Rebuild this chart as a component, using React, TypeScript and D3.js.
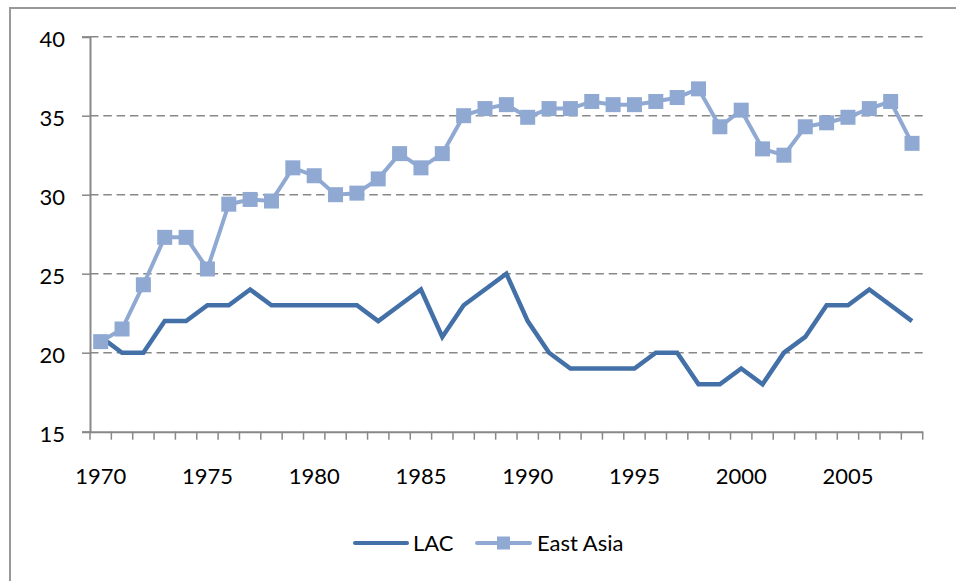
import React, { useEffect, useRef } from "react";
import * as d3 from "d3";

const years = d3.range(1970, 2009).map(String);
const lacValues = [
  21, 20, 20, 22, 22, 23, 23, 24, 23, 23, 23, 23, 23, 22, 23, 24, 21, 23, 24, 25,
  22, 20, 19, 19, 19, 19, 20, 20, 18, 18, 19, 18, 20, 21, 23, 23, 24, 23, 22,
];
const eastAsiaValues = [
  20.7, 21.5, 24.3, 27.3, 27.3, 25.3, 29.4, 29.7, 29.6, 31.7, 31.2, 30.0, 30.1,
  31.0, 32.6, 31.7, 32.6, 35.0, 35.45, 35.7, 34.9, 35.45, 35.45, 35.9, 35.7, 35.7,
  35.9, 36.15, 36.7, 34.3, 35.35, 32.9, 32.5, 34.3, 34.55, 34.9, 35.45, 35.9, 33.25,
];
const yTicks = [15, 20, 25, 30, 35, 40];
const yearLabels = ["1970", "1975", "1980", "1985", "1990", "1995", "2000", "2005"];
const seriesNames = ["LAC", "East Asia"];

const W = 956;
const H = 581;
const FONT = "Lato, 'Open Sans', sans-serif";
const LAC_COLOR = "#4470a8";
const EA_COLOR = "#8fa9d3";
const AXIS_COLOR = "#888888";

export default function App() {
  const ref = useRef<SVGSVGElement>(null);

  useEffect(() => {
    if (!ref.current) return;
    const svg = d3.select(ref.current);
    svg.selectAll("*").remove();

    const plot = { left: 90, right: 922.7, top: 36.7, bottom: 431.7 };

    // chart frame
    svg.append("rect")
      .attr("x", 10).attr("y", 8)
      .attr("width", W + 20).attr("height", H + 20)
      .attr("fill", "white")
      .attr("stroke", "#999")
      .attr("stroke-width", 2);

    const x = d3.scaleBand()
      .domain(years)
      .range([plot.left, plot.right]);

    const y = d3.scaleLinear()
      .domain([15, 40])
      .range([plot.bottom, plot.top]);

    const cx = (yr: string) => (x(yr) as number) + x.bandwidth() / 2;

    // gridlines
    svg.append("g")
      .selectAll("line")
      .data(yTicks.filter(t => t !== 15))
      .join("line")
      .attr("x1", plot.left)
      .attr("x2", plot.right)
      .attr("y1", d => y(d))
      .attr("y2", d => y(d))
      .attr("stroke", AXIS_COLOR)
      .attr("stroke-width", 1.5)
      .attr("stroke-dasharray", "8.5,4.8");

    // y axis
    const yAxis = svg.append("g")
      .attr("transform", `translate(${plot.left},0)`)
      .call(d3.axisLeft(y).tickValues(yTicks).tickSize(8).tickPadding(17));
    yAxis.select(".domain").attr("stroke", AXIS_COLOR).attr("stroke-width", 2);
    yAxis.selectAll(".tick line").attr("stroke", AXIS_COLOR).attr("stroke-width", 1.5);
    yAxis.selectAll(".tick text")
      .attr("font-family", FONT)
      .attr("font-size", 22)
      .attr("fill", "#000")
      .attr("dy", "0.45em");

    // x axis
    const xAxis = svg.append("g")
      .attr("transform", `translate(0,${plot.bottom})`)
      .call(d3.axisBottom(x).tickSize(0).tickFormat(d => (yearLabels.includes(d) ? d : "")).tickPadding(37));
    xAxis.select(".domain").attr("stroke", AXIS_COLOR).attr("stroke-width", 2);
    xAxis.selectAll(".tick text")
      .attr("font-family", FONT)
      .attr("font-size", 22)
      .attr("fill", "#000");

    // category boundary ticks
    svg.append("g")
      .selectAll("line")
      .data([...years.map(yr => x(yr) as number), plot.right])
      .join("line")
      .attr("x1", d => d).attr("x2", d => d)
      .attr("y1", plot.bottom).attr("y2", plot.bottom + 8)
      .attr("stroke", AXIS_COLOR)
      .attr("stroke-width", 1.5);

    const line = d3.line<number>()
      .x((_, i) => cx(years[i]))
      .y(d => y(d));

    svg.append("path")
      .datum(lacValues)
      .attr("fill", "none")
      .attr("stroke", LAC_COLOR)
      .attr("stroke-width", 4.5)
      .attr("stroke-linejoin", "miter")
      .attr("d", line);

    svg.append("path")
      .datum(eastAsiaValues)
      .attr("fill", "none")
      .attr("stroke", EA_COLOR)
      .attr("stroke-width", 4)
      .attr("d", line);

    const m = 15;
    svg.append("g")
      .selectAll("rect")
      .data(eastAsiaValues)
      .join("rect")
      .attr("x", (_, i) => cx(years[i]) - m / 2)
      .attr("y", d => y(d) - m / 2)
      .attr("width", m)
      .attr("height", m)
      .attr("fill", EA_COLOR);

    // legend
    const legY = 543;
    const leg = svg.append("g");
    leg.append("line")
      .attr("x1", 355).attr("x2", 407).attr("y1", legY).attr("y2", legY)
      .attr("stroke", LAC_COLOR).attr("stroke-width", 4).attr("stroke-linecap", "round");
    leg.append("text")
      .attr("x", 413).attr("y", legY + 8)
      .attr("font-family", FONT).attr("font-size", 22)
      .text(seriesNames[0]);
    leg.append("line")
      .attr("x1", 477).attr("x2", 530).attr("y1", legY).attr("y2", legY)
      .attr("stroke", EA_COLOR).attr("stroke-width", 4).attr("stroke-linecap", "round");
    leg.append("rect")
      .attr("x", 503.5 - 6.5).attr("y", legY - 6.5).attr("width", 13).attr("height", 13)
      .attr("fill", EA_COLOR);
    leg.append("text")
      .attr("x", 537).attr("y", legY + 8)
      .attr("font-family", FONT).attr("font-size", 22)
      .text(seriesNames[1]);
  }, []);

  return (
    <svg
      ref={ref}
      width={W}
      height={H}
      style={{ position: "absolute", left: 0, top: 0, display: "block", background: "white" }}
    ></svg>
  );
}
